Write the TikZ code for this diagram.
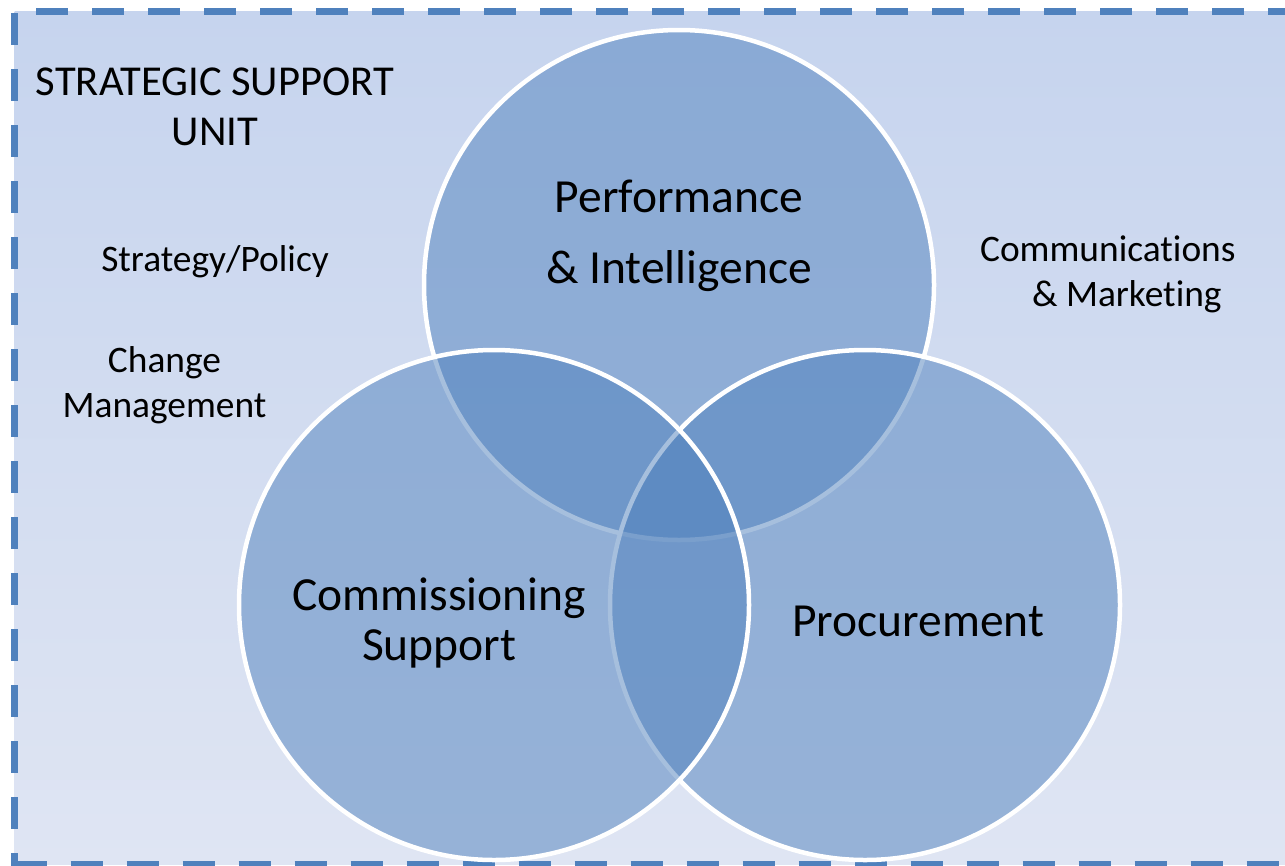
\documentclass[tikz,border=0pt]{standalone}
\usepackage{fontspec}
\setmainfont{Carlito}[Ligatures=NoCommon]
\definecolor{accent}{HTML}{4F81BD}
\definecolor{bgtop}{HTML}{C6D4EE}
\definecolor{bgbot}{HTML}{DFE5F3}
\begin{document}
\begin{tikzpicture}[x=1pt,y=-1pt,
  venn/.style={circle, minimum size=510pt, inner sep=0pt, fill=accent, fill opacity=0.5, draw=white, draw opacity=1, line width=4.5pt},
  border/.style={draw=accent, line width=7.5pt, dash pattern=on 32pt off 24pt},
  lbl/.style={anchor=base, inner sep=0pt, align=center, text=black},
  big/.style={lbl, font=\fontsize{47.5}{50}\selectfont},
  small/.style={lbl, font=\fontsize{37.4}{44.3}\selectfont}
]
\useasboundingbox (0,0) rectangle (1285,865);
% background panel
\shade[top color=bgtop, bottom color=bgbot] (14.5,11.5) rectangle (1300,864.5);
\draw[border] (36,11.5) -- (1300,11.5);
\draw[border] (14.5,13) -- (14.5,880);
\draw[border] (14.5,864.5) -- (1300,864.5);
% circles: top, right, left
\node[venn] (pi) at (679,285) {};
\node[venn] (pr) at (865,605) {};
\node[venn] (cs) at (494,605) {};
% labels (base anchor = baseline of the last line)
\node[lbl, font=\fontsize{42.6}{50.7}\selectfont] (ssu) at (215,145.7) {STRATEGIC SUPPORT\\UNIT};
\node[small] (sp) at (215,271.7) {Strategy/Policy};
\node[small] (cm) at (164.5,417) {Change\\Management};
\node[small] (cmk) at (1107.8,306) {Communications\\\hspace*{38pt}\& Marketing};
\node[big, font=\fontsize{47.5}{70.6}\selectfont] (tpi) at (679,283.3) {Performance\\\& Intelligence};
\node[big] (tcs) at (439.3,660.7) {Commissioning\\Support};
\node[big] (tpr) at (918.3,636) {Procurement};
\end{tikzpicture}
\end{document}
